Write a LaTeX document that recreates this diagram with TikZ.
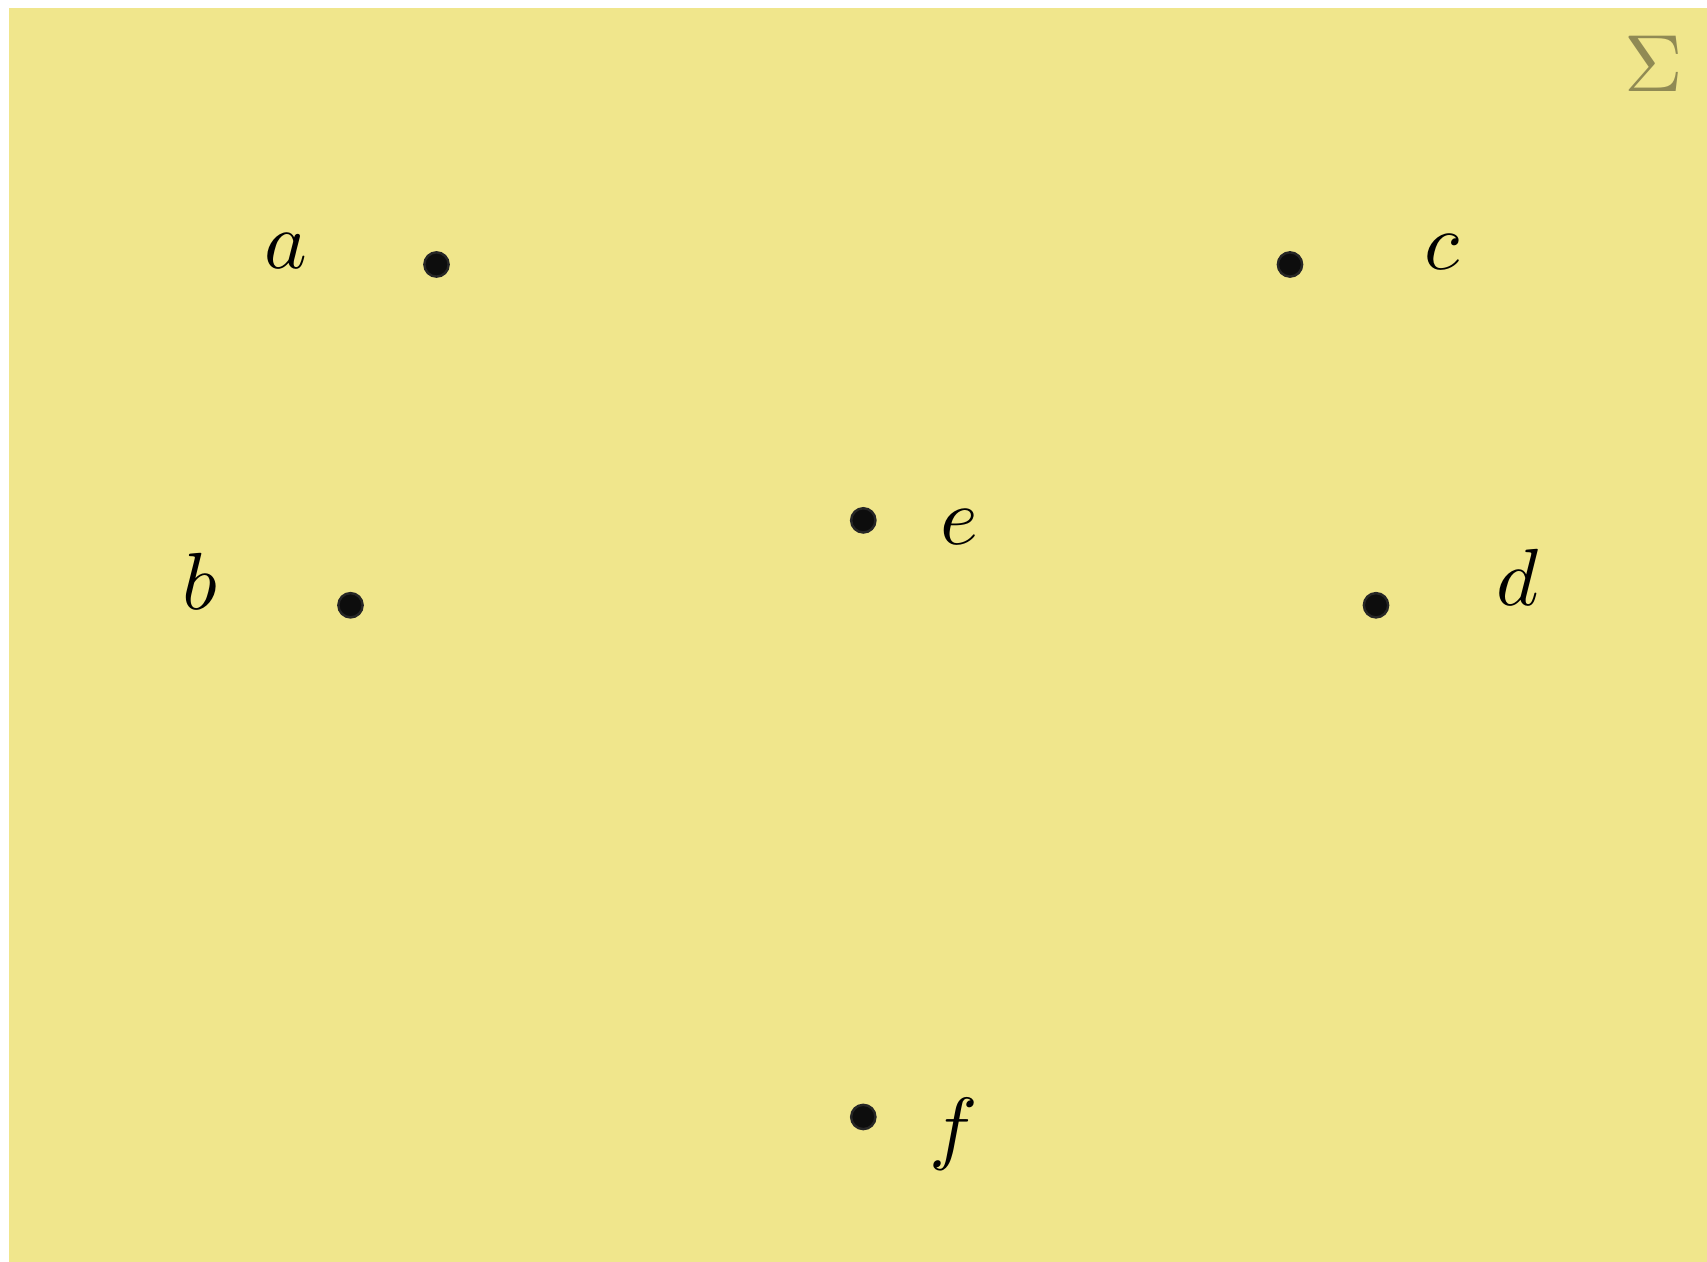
\documentclass[tikz,border=0pt]{standalone}
\usetikzlibrary{shapes.geometric}
\definecolor{bgkhaki}{RGB}{240,230,140}
\colorlet{sigmacol}{bgkhaki!60!black}
\tikzset{
  pt/.style={circle, fill=black!95, draw=black!85, line width=0.3pt, minimum size=3.0pt, inner sep=0pt},
  lbl/.style={inner sep=0pt, font=\normalsize},
}
\begin{document}
\begin{tikzpicture}[x=0.12346pt, y=-0.12346pt]
\useasboundingbox (0,0) rectangle (1707,1262);
\fill[bgkhaki] (9,8) rectangle (1707,1262);
\node[inner sep=0pt, text=sigmacol] (sigma) at (1653.5,64) {$\Sigma$};
\node[pt] (a) at (436.5,264.5) {};
\node[pt] (c) at (1290,264.5) {};
\node[pt] (e) at (863.3,520.4) {};
\node[pt] (b) at (350.5,605.3) {};
\node[pt] (d) at (1376,605.3) {};
\node[pt] (f) at (863.3,1117) {};
\node[lbl] (la) at (286,251) {$a$};
\node[lbl] (lc) at (1442,252) {$c$};
\node[lbl] (le) at (959,527) {$e$};
\node[lbl] (lb) at (200,581) {$b$};
\node[lbl] (ld) at (1518,577) {$d$};
\node[lbl] (lf) at (954,1134) {$f$};
\end{tikzpicture}
\end{document}
